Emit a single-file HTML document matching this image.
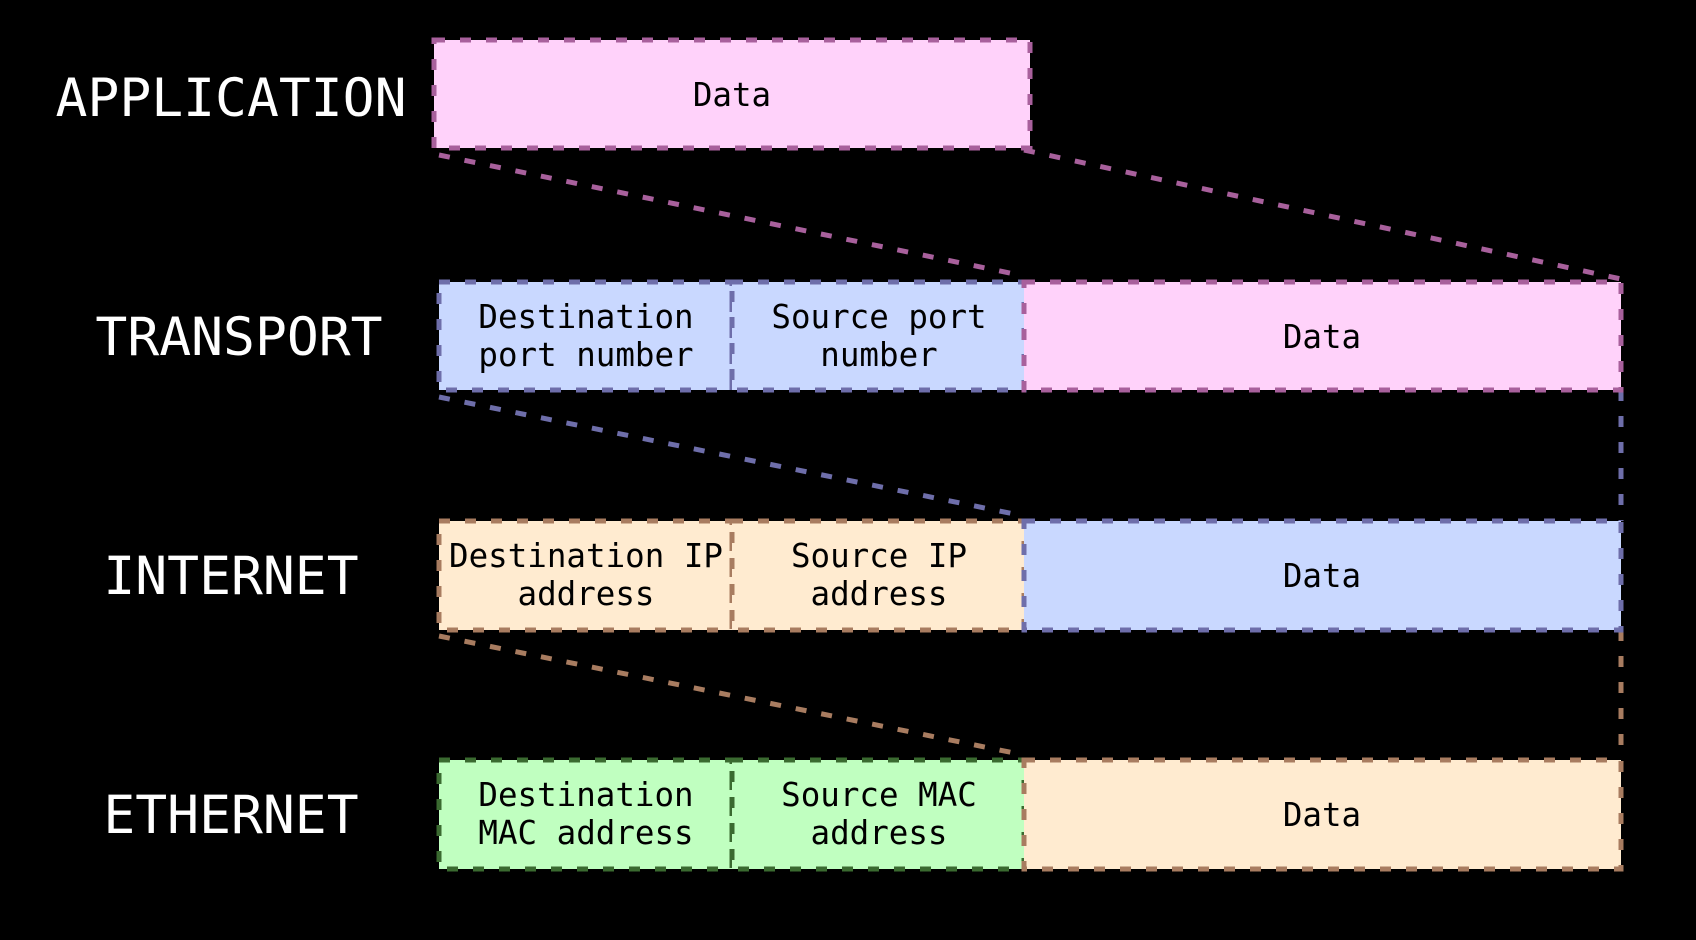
<!DOCTYPE html>
<html><head><meta charset="utf-8"><style>
html,body{margin:0;padding:0;background:#000;}
svg{display:block}
text{font-family:"DejaVu Sans Mono","Liberation Mono",monospace;}
</style></head><body>
<svg width="1696" height="940" viewBox="0 0 1696 940" xmlns="http://www.w3.org/2000/svg">
<rect width="1696" height="940" fill="#000"/>
<g stroke-width="5" stroke-dasharray="11 15" fill="none">
  <line x1="439" y1="155" x2="1024" y2="276" stroke="#a8609c"/>
  <line x1="1024" y1="150" x2="1621" y2="279" stroke="#a8609c"/>
  <line x1="439" y1="397" x2="1024" y2="516" stroke="#6e6eaa"/>
  <line x1="1621" y1="390" x2="1621" y2="521" stroke="#6e6eaa"/>
  <line x1="439" y1="636" x2="1024" y2="755" stroke="#a87c60"/>
  <line x1="1621" y1="630" x2="1621" y2="760" stroke="#a87c60"/>
</g>
<g stroke-width="5" stroke-dasharray="11 15">
  <rect x="434" y="40" width="596" height="108" fill="#ffd2fa" stroke="#a8609c"/>
  <rect x="439" y="282" width="293" height="108" fill="#c9d8ff" stroke="#6e6eaa"/>
  <rect x="732" y="282" width="292" height="108" fill="#c9d8ff" stroke="#6e6eaa"/>
  <rect x="1024" y="282" width="597" height="108" fill="#ffd2fa" stroke="#a8609c"/>
  <rect x="439" y="521" width="293" height="109" fill="#ffebd0" stroke="#a87c60"/>
  <rect x="732" y="521" width="292" height="109" fill="#ffebd0" stroke="#a87c60"/>
  <rect x="1024" y="521" width="597" height="109" fill="#c9d8ff" stroke="#6e6eaa"/>
  <rect x="439" y="760" width="293" height="109" fill="#c0ffc0" stroke="#3a6a30"/>
  <rect x="732" y="760" width="292" height="109" fill="#c0ffc0" stroke="#3a6a30"/>
  <rect x="1024" y="760" width="597" height="109" fill="#ffebd0" stroke="#a87c60"/>
</g>
<g fill="#fff" font-size="53" text-anchor="middle">
  <text x="231" y="116">APPLICATION</text>
  <text x="239" y="355">TRANSPORT</text>
  <text x="231" y="594">INTERNET</text>
  <text x="231" y="833">ETHERNET</text>
</g>
<g fill="#000" font-size="32.5" text-anchor="middle">
  <text x="732" y="106">Data</text>
  <text x="586" y="328">Destination</text>
  <text x="586" y="366">port number</text>
  <text x="879" y="328">Source port</text>
  <text x="879" y="366">number</text>
  <text x="1322" y="348">Data</text>
  <text x="586" y="567">Destination IP</text>
  <text x="586" y="605">address</text>
  <text x="879" y="567">Source IP</text>
  <text x="879" y="605">address</text>
  <text x="1322" y="587">Data</text>
  <text x="586" y="806">Destination</text>
  <text x="586" y="844">MAC address</text>
  <text x="879" y="806">Source MAC</text>
  <text x="879" y="844">address</text>
  <text x="1322" y="826">Data</text>
</g>
</svg>
</body></html>
